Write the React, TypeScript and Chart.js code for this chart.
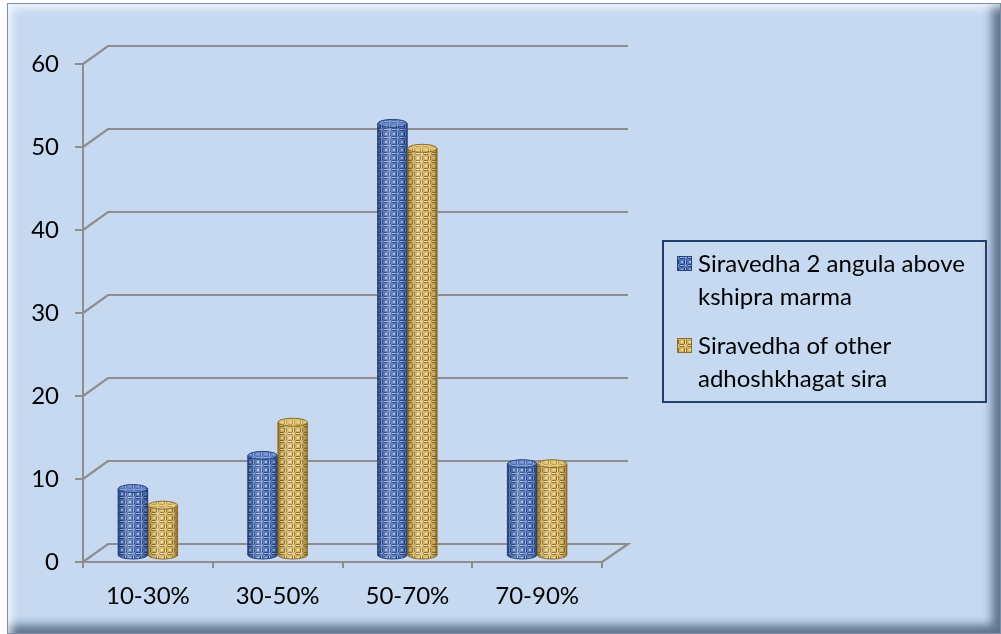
import React, { useEffect, useRef } from "react";
import { Chart, registerables } from "chart.js";

Chart.register(...registerables);

const categories = ["10-30%", "30-50%", "50-70%", "70-90%"];
const seriesLabels = [
  "Siravedha 2 angula above kshipra marma",
  "Siravedha of other adhoshkhagat sira",
];
const seriesA = [8, 12, 52, 11];
const seriesB = [6, 16, 49, 11];
const yTicks = { min: 0, max: 60, step: 10 };

const FONT = "Lato, 'Open Sans', sans-serif";
const FSIZE = 24;
const GRID = "#8e8e8e";

type Palette = { base: string; dark: string; light: string; shade: string; cap: string };
const blue: Palette = { base: "#5276ba", dark: "#27427c", light: "#9bb8e6", shade: "20,35,80", cap: "#7d9cd6" };
const tan: Palette = { base: "#d4b262", dark: "#8e6e2a", light: "#f3de9a", shade: "90,65,15", cap: "#e8cd82" };

function makePattern(p: Palette): CanvasPattern | string {
  const c = document.createElement("canvas");
  c.width = 8;
  c.height = 8;
  const g = c.getContext("2d");
  if (!g) return p.base;
  g.fillStyle = p.base;
  g.fillRect(0, 0, 8, 8);
  g.fillStyle = p.dark;
  g.fillRect(0, 0, 4, 1);
  g.fillRect(0, 2, 4, 1);
  g.fillRect(4, 4, 1, 4);
  g.fillRect(6, 4, 1, 4);
  g.fillRect(7, 1, 1, 1);
  g.fillStyle = p.light;
  g.fillRect(0, 1, 4, 1);
  g.fillRect(5, 4, 1, 4);
  g.fillRect(1, 5, 2, 2);
  g.fillRect(5, 1, 2, 1);
  return g.createPattern(c, "repeat") || p.base;
}

export default function App() {
  const ref = useRef<HTMLCanvasElement | null>(null);

  useEffect(() => {
    let chart: Chart | null = null;
    let cancelled = false;
    const build = () => {
      if (cancelled || !ref.current) return;
      const patA = makePattern(blue);
      const patB = makePattern(tan);
      const palettes = [blue, tan];
      const pats = [patA, patB];

      const grid3d = {
        id: "grid3d",
        beforeDatasetsDraw(ch: any) {
          const ctx = ch.ctx;
          const y = ch.scales.y;
          const area = ch.chartArea;
          const dx = 25;
          const dy = -18;
          ctx.save();
          ctx.strokeStyle = GRID;
          ctx.lineWidth = 2.2;
          for (let v = yTicks.min; v <= yTicks.max; v += yTicks.step) {
            const py = y.getPixelForValue(v);
            ctx.beginPath();
            ctx.moveTo(area.left, py);
            ctx.lineTo(area.left + dx, py + dy);
            ctx.lineTo(area.right + dx + 1, py + dy);
            if (v === yTicks.min) {
              ctx.lineTo(area.right, py);
            }
            ctx.stroke();
          }
          ctx.restore();
        },
      };

      const cylinders = {
        id: "cylinders",
        afterDatasetsDraw(ch: any) {
          const ctx = ch.ctx;
          ch.data.datasets.forEach((_ds: any, di: number) => {
            const p = palettes[di];
            const meta = ch.getDatasetMeta(di);
            meta.data.forEach((el: any) => {
              const w = el.width;
              const l = el.x - w / 2;
              const r = el.x + w / 2;
              const top = el.y;
              const base = el.base;
              const ry = 4;
              ctx.save();
              ctx.beginPath();
              ctx.ellipse(el.x, base, w / 2, ry, 0, 0, Math.PI);
              ctx.closePath();
              ctx.fillStyle = pats[di];
              ctx.fill();
              const gr = ctx.createLinearGradient(l, 0, r, 0);
              gr.addColorStop(0, `rgba(${p.shade},0.6)`);
              gr.addColorStop(0.12, `rgba(${p.shade},0.15)`);
              gr.addColorStop(0.35, "rgba(255,255,255,0.22)");
              gr.addColorStop(0.65, "rgba(255,255,255,0.0)");
              gr.addColorStop(0.88, `rgba(${p.shade},0.22)`);
              gr.addColorStop(1, `rgba(${p.shade},0.6)`);
              ctx.fillStyle = gr;
              ctx.beginPath();
              ctx.moveTo(l, top);
              ctx.lineTo(l, base);
              ctx.ellipse(el.x, base, w / 2, ry, 0, Math.PI, 0, true);
              ctx.lineTo(r, top);
              ctx.closePath();
              ctx.fill();
              ctx.strokeStyle = p.dark;
              ctx.lineWidth = 1;
              ctx.beginPath();
              ctx.moveTo(l + 0.5, top);
              ctx.lineTo(l + 0.5, base);
              ctx.ellipse(el.x, base, w / 2 - 0.5, ry, 0, Math.PI, 0, true);
              ctx.lineTo(r - 0.5, top);
              ctx.stroke();
              ctx.beginPath();
              ctx.ellipse(el.x, top, w / 2 - 0.5, ry, 0, 0, Math.PI * 2);
              ctx.fillStyle = pats[di];
              ctx.fill();
              ctx.fillStyle = p.cap;
              ctx.globalAlpha = 0.5;
              ctx.fill();
              ctx.globalAlpha = 1;
              ctx.stroke();
              ctx.restore();
            });
          });
        },
      };

      const legendBox = {
        id: "legendBox",
        afterDraw(ch: any) {
          const ctx = ch.ctx;
          const bx = 663;
          const by = 241;
          const bw = 323;
          const bh = 161;
          ctx.save();
          ctx.strokeStyle = "#22406c";
          ctx.lineWidth = 2;
          ctx.strokeRect(bx, by, bw, bh);
          ctx.font = `${FSIZE}px ${FONT}`;
          ctx.fillStyle = "#000";
          ctx.textBaseline = "middle";
          ctx.textAlign = "left";
          const textX = 698;
          const maxW = bx + bw - textX - 4;
          const firstY = [264, 346];
          const lineH = 33;
          ch.data.datasets.forEach((ds: any, di: number) => {
            const words = String(ds.label).split(" ");
            const lines: string[] = [];
            let cur = "";
            words.forEach((w: string) => {
              const t = cur ? cur + " " + w : w;
              if (ctx.measureText(t).width > maxW && cur) {
                lines.push(cur);
                cur = w;
              } else cur = t;
            });
            if (cur) lines.push(cur);
            const y0 = firstY[di];
            ctx.fillStyle = pats[di];
            ctx.fillRect(677, y0 - 8, 15, 15);
            ctx.strokeStyle = palettes[di].dark;
            ctx.lineWidth = 1;
            ctx.strokeRect(677.5, y0 - 7.5, 14, 14);
            ctx.fillStyle = "#000";
            lines.forEach((ln, li) => ctx.fillText(ln, textX, y0 + li * lineH));
          });
          ctx.restore();
        },
      };

      chart = new Chart(ref.current, {
        type: "bar",
        data: {
          labels: categories,
          datasets: [
            { label: seriesLabels[0], data: seriesA, backgroundColor: patA as any, borderWidth: 0, yAxisID: "yb" },
            { label: seriesLabels[1], data: seriesB, backgroundColor: patB as any, borderWidth: 0, yAxisID: "yb" },
          ],
        },
        options: {
          responsive: false,
          animation: false,
          devicePixelRatio: 1,
          layout: { padding: { left: 0, top: 64, right: 399, bottom: 0 } },
          datasets: { bar: { barThickness: 30 } },
          plugins: { legend: { display: false }, tooltip: { enabled: false } },
          scales: {
            x: {
              type: "category",
              grid: {
                display: true,
                drawOnChartArea: false,
                drawTicks: true,
                tickLength: 6,
                color: GRID,
                lineWidth: 2,
                offset: true,
              },
              border: { display: true, color: GRID, width: 2 },
              ticks: { font: { family: FONT, size: FSIZE }, color: "#000", padding: 14, maxRotation: 0 },
              afterFit: (s: any) => {
                s.height = 72;
              },
            },
            y: {
              position: "left",
              min: yTicks.min,
              max: yTicks.max,
              ticks: { stepSize: yTicks.step, font: { family: FONT, size: FSIZE }, color: "#000", padding: 16 },
              grid: { drawOnChartArea: false, drawTicks: true, tickLength: 8, color: GRID, lineWidth: 2 },
              border: { display: true, color: GRID, width: 2 },
              afterFit: (s: any) => {
                s.width = 83;
              },
            },
            yb: {
              display: false,
              min: -0.843,
              max: 59.157,
            },
          },
        },
        plugins: [grid3d, cylinders, legendBox],
      } as any);
    };
    const fonts: any = (document as any).fonts;
    if (fonts && fonts.load) {
      fonts.load(`${FSIZE}px Lato`).then(build, build);
    } else build();
    return () => {
      cancelled = true;
      if (chart) chart.destroy();
    };
  }, []);

  return (
    <div style={{ position: "absolute", left: 0, top: 0, width: 1001, height: 634, overflow: "hidden" }}>
      <div
        style={{
          position: "absolute",
          left: 7,
          top: 3,
          width: 994,
          height: 631,
          boxSizing: "border-box",
          background: "#c6d9f1",
          border: "1px solid #7d8ea6",
          boxShadow:
            "inset 9px 9px 8px -5px rgba(255,255,255,0.75), inset -14px -14px 10px -6px rgba(60,80,110,0.75)",
        }}
      />
      <canvas
        ref={ref}
        width={1001}
        height={634}
        style={{ position: "absolute", left: 0, top: 0, width: 1001, height: 634 }}
      />
    </div>
  );
}
